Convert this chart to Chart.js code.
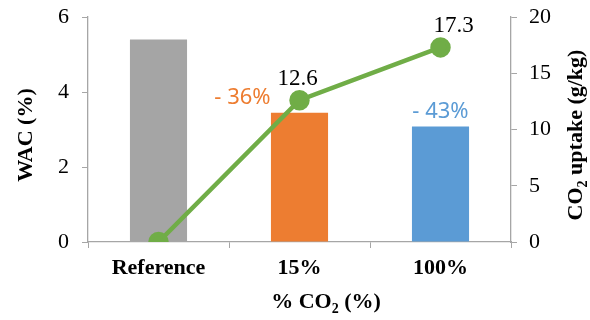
<!DOCTYPE html>
<html>
<head>
<meta charset="utf-8">
<script src="https://cdn.jsdelivr.net/npm/chart.js@4.4.1/dist/chart.umd.min.js"></script>
<style>
  body { margin: 0; background: #fff; }
  #wrap { width: 590px; height: 320px; }
</style>
</head>
<body>
<div id="wrap"><canvas id="chart" width="590" height="320"></canvas></div>
<script>
const categories = ["Reference", "15%", "100%"];
const wacValues = [5.4, 3.45, 3.08];
const uptakeValues = [0, 12.6, 17.3];
const barColors = ["#A5A5A5", "#ED7D31", "#5B9BD5"];
const barLabels = ["", "- 36%", "- 43%"];
const lineLabels = ["", "12.6", "17.3"];
const leftTicks = [0, 2, 4, 6];
const rightTicks = [0, 5, 10, 15, 20];

const serif = "'Liberation Serif', 'Times New Roman', serif";
const axisGray = "#A6A6A6";

// draws text with an optional subscript part, rotated around (x, y)
function drawRich(ctx, parts, x, y, rot) {
  ctx.save();
  ctx.translate(x, y);
  ctx.rotate(rot);
  let total = 0;
  parts.forEach(p => {
    ctx.font = p.sub ? "bold 14px " + serif : "bold 22px " + serif;
    p.w = ctx.measureText(p.t).width;
    total += p.w;
  });
  let cx = -total / 2;
  ctx.textBaseline = "middle";
  ctx.textAlign = "left";
  ctx.fillStyle = "#000";
  parts.forEach(p => {
    ctx.font = p.sub ? "bold 14px " + serif : "bold 22px " + serif;
    ctx.fillText(p.t, cx, p.sub ? 7 : 0);
    cx += p.w;
  });
  ctx.restore();
}

// keep the plot box fixed, whatever the tick label sizes
function noPad(s) {
  s.paddingTop = 0;
  s.paddingBottom = 0;
}

const labelPlugin = {
  id: "labels",
  afterDatasetsDraw(chart) {
    const ctx = chart.ctx;
    const bars = chart.getDatasetMeta(1).data;
    const pts = chart.getDatasetMeta(0).data;
    ctx.save();
    ctx.textAlign = "center";
    ctx.textBaseline = "middle";
    ctx.font = "22px 'Noto Sans', 'Open Sans', sans-serif";
    const barDx = [0, -57, 0];
    bars.forEach((b, i) => {
      if (!barLabels[i]) return;
      ctx.fillStyle = barColors[i];
      ctx.fillText(barLabels[i], b.x + barDx[i], b.y - 15);
    });
    ctx.font = "23px " + serif;
    ctx.fillStyle = "#000";
    const lineDx = [0, -2, 13];
    pts.forEach((p, i) => {
      if (!lineLabels[i]) return;
      ctx.fillText(lineLabels[i], p.x + lineDx[i], p.y - 21);
    });
    ctx.restore();
  },
  afterDraw(chart) {
    const ctx = chart.ctx;
    drawRich(ctx, [{ t: "WAC (%)" }], 26, 135, -Math.PI / 2);
    drawRich(ctx, [{ t: "CO" }, { t: "2", sub: true }, { t: " uptake (g/kg)" }], 576, 135, -Math.PI / 2);
    drawRich(ctx, [{ t: "% CO" }, { t: "2", sub: true }, { t: " (%)" }], 326, 302, 0);
  }
};

new Chart(document.getElementById("chart"), {
  data: {
    labels: categories,
    datasets: [
      {
        type: "line",
        data: uptakeValues,
        yAxisID: "y1",
        borderColor: "#70AD47",
        backgroundColor: "#70AD47",
        borderWidth: 4.5,
        pointRadius: 8,
        pointHoverRadius: 8,
        order: 0
      },
      {
        type: "bar",
        data: wacValues,
        yAxisID: "y",
        backgroundColor: barColors,
        categoryPercentage: 1,
        barPercentage: 0.405,
        order: 1
      }
    ]
  },
  options: {
    responsive: false,
    animation: false,
    layout: { padding: { top: 17 } },
    plugins: {
      legend: { display: false },
      tooltip: { enabled: false }
    },
    scales: {
      x: {
        afterFit(s) { s.height = 78; s.paddingLeft = 0; s.paddingRight = 0; },
        grid: { drawOnChartArea: false, color: axisGray, tickLength: 6, offset: true },
        border: { color: axisGray, width: 1.3 },
        ticks: {
          color: "#000",
          padding: 7,
          font: { family: serif, size: 22, weight: "bold" }
        }
      },
      y: {
        position: "left",
        min: 0,
        max: 6,
        afterFit(s) { s.width = 88; noPad(s); },
        afterBuildTicks(s) { s.ticks = leftTicks.map(v => ({ value: v })); },
        grid: { drawOnChartArea: false, color: axisGray, tickLength: 6 },
        border: { color: axisGray, width: 1.3 },
        ticks: {
          color: "#000",
          padding: 13,
          font: { family: serif, size: 22 }
        }
      },
      y1: {
        position: "right",
        min: 0,
        max: 20,
        afterFit(s) { s.width = 79; noPad(s); },
        afterBuildTicks(s) { s.ticks = rightTicks.map(v => ({ value: v })); },
        grid: { drawOnChartArea: false, color: axisGray, tickLength: 6 },
        border: { color: axisGray, width: 1.3 },
        ticks: {
          color: "#000",
          padding: 12,
          font: { family: serif, size: 22 }
        }
      }
    }
  },
  plugins: [labelPlugin]
});
</script>
</body>
</html>
